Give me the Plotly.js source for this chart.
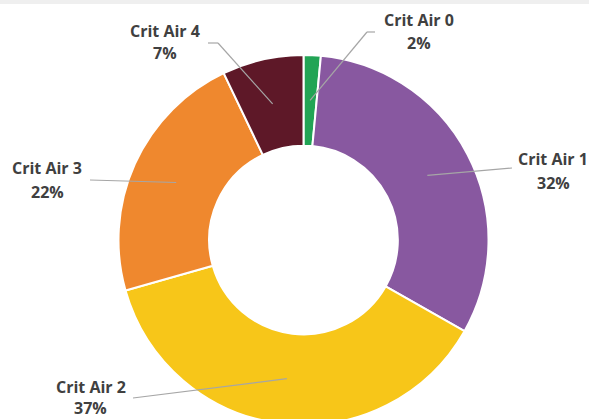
<!DOCTYPE html>
<html>
<head>
<meta charset="utf-8">
<script src="https://cdn.plot.ly/plotly-3.0.1.min.js"></script>
<style>
  html, body { margin: 0; padding: 0; background: #ffffff; overflow: hidden; }
  #chart { width: 589px; height: 480px; }
</style>
</head>
<body>
<div id="chart"></div>
<script>
// ---- data ----
const categories = ["Crit Air 0", "Crit Air 1", "Crit Air 2", "Crit Air 3", "Crit Air 4"];
const shares = [1.5, 31.7, 37.4, 22.3, 7.1];
const sliceColors = ["#22A455", "#8858A0", "#F7C619", "#EF882E", "#5E1828"];

// ---- layout helpers ----
const W = 589, H = 480;
const CX = 303.5, CY = 240, R = 185, HOLE = 0.51;
const px = x => x / W;
const py = y => 1 - y / H;

// label block positions (text centres) and leader-line end / elbow points (pixels)
const labelPos = [
  { x: 419, y1: 20, y2: 43, path: [[367, 32], [375, 32]] },
  { x: 553, y1: 159, y2: 183, path: [[512, 168]] },
  { x: 91, y1: 387, y2: 408, path: [[133, 398]] },
  { x: 47, y1: 168, y2: 192, path: [[90, 180]] },
  { x: 165, y1: 31, y2: 53, path: [[218, 43], [208, 43]] }
];

const total = shares.reduce((a, b) => a + b, 0);
const pct = shares.map(v => Math.round(100 * v / total) + "%");

// anchor points at the middle of each ring segment, derived from the data
let cum = 0;
const anchors = shares.map(v => {
  const mid = (cum + v / 2) / total;
  cum += v;
  const ang = mid * 2 * Math.PI; // clockwise from 12 o'clock
  const rr = R * (1 + HOLE) / 2;
  return [CX + rr * Math.sin(ang), CY - rr * Math.cos(ang)];
});

const shapes = [
  { type: "rect", xref: "paper", yref: "paper", x0: 0, x1: 1, y0: py(4), y1: py(0),
    fillcolor: "#efefef", line: { width: 0 }, layer: "below" }
];
const annotations = [];
const textFont = { family: "Open Sans, Lato, sans-serif", size: 16, color: "#404040", weight: 700 };

categories.forEach((c, i) => {
  const pts = [anchors[i]].concat(labelPos[i].path);
  for (let k = 0; k < pts.length - 1; k++) {
    shapes.push({
      type: "line", xref: "paper", yref: "paper",
      x0: px(pts[k][0]), y0: py(pts[k][1]), x1: px(pts[k + 1][0]), y1: py(pts[k + 1][1]),
      line: { color: "#a6a6a6", width: 1.2 }
    });
  }
  annotations.push({
    xref: "paper", yref: "paper", x: px(labelPos[i].x), y: py(labelPos[i].y1),
    text: c, showarrow: false, xanchor: "center", yanchor: "middle", font: textFont
  });
  annotations.push({
    xref: "paper", yref: "paper", x: px(labelPos[i].x), y: py(labelPos[i].y2),
    text: pct[i], showarrow: false, xanchor: "center", yanchor: "middle", font: textFont
  });
});

const trace = {
  type: "pie",
  labels: categories,
  values: shares,
  sort: false,
  direction: "clockwise",
  rotation: 0,
  hole: HOLE,
  textinfo: "none",
  hoverinfo: "label+percent",
  showlegend: false,
  marker: { colors: sliceColors, line: { color: "#ffffff", width: 2 } },
  domain: { x: [(CX - R) / W, (CX + R) / W], y: [0, 1] }
};

const layout = {
  width: W, height: H,
  margin: { l: 0, r: 0, t: 0, b: 0 },
  paper_bgcolor: "#ffffff",
  plot_bgcolor: "#ffffff",
  showlegend: false,
  shapes: shapes,
  annotations: annotations
};

Plotly.newPlot("chart", [trace], layout, { displayModeBar: false, staticPlot: true });
</script>
</body>
</html>
